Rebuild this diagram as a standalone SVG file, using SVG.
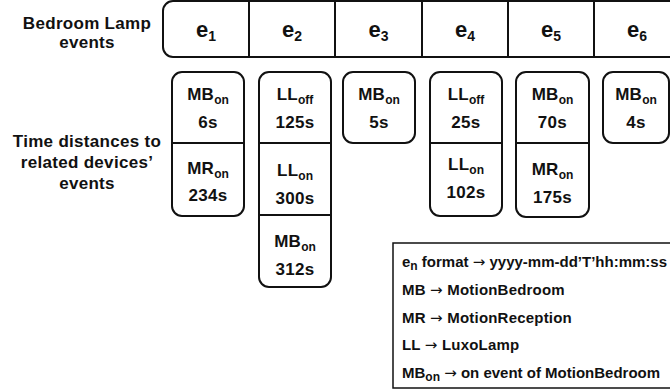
<svg xmlns="http://www.w3.org/2000/svg" width="670" height="392" viewBox="0 0 670 392">
<style>
.s{fill:#fff;stroke:#111;stroke-width:2}
.l{stroke:#111;stroke-width:2;fill:none}
text{font-family:"Liberation Sans",Arial,sans-serif;font-weight:bold;fill:#111}
.h{font-size:17px;text-anchor:middle;letter-spacing:0.3px}
.e{font-size:22px;text-anchor:middle}
.b{font-size:17px;text-anchor:middle;letter-spacing:0.3px}
.g{font-size:15px;letter-spacing:0.2px}
.sub{font-size:12px;letter-spacing:0}
.esub{font-size:14px}
.ar{font-family:"DejaVu Sans",sans-serif;font-weight:normal}
</style>
<rect width="670" height="392" fill="#fff"/>
<g id="label-events">
<text class="h" x="87" y="29">Bedroom Lamp</text>
<text class="h" x="87" y="48">events</text>
</g>
<g id="label-distances">
<text class="h" x="87" y="147">Time distances to</text>
<text class="h" x="87" y="168">related devices’</text>
<text class="h" x="87" y="189">events</text>
</g>
<g id="events-bar">
<path class="s" d="M 680 1 H 173 A 10 10 0 0 0 163 11 V 47 A 10 10 0 0 0 173 57 H 680"/>
<path class="l" d="M249 1V57M335 1V57M422 1V57M508 1V57M594 1V57"/>
<text class="e" x="206" y="37">e<tspan class="esub" dy="4">1</tspan></text>
<text class="e" x="292" y="37">e<tspan class="esub" dy="4">2</tspan></text>
<text class="e" x="378.5" y="37">e<tspan class="esub" dy="4">3</tspan></text>
<text class="e" x="465" y="37">e<tspan class="esub" dy="4">4</tspan></text>
<text class="e" x="551" y="37">e<tspan class="esub" dy="4">5</tspan></text>
<text class="e" x="637" y="37">e<tspan class="esub" dy="4">6</tspan></text>
</g>
<g id="box-e1">
<rect class="s" x="172" y="72" width="72" height="144" rx="10"/>
<line class="l" x1="172" y1="143" x2="244" y2="143"/>
<text class="b" x="208" y="100">MB<tspan class="sub" dy="4">on</tspan></text>
<text class="b" x="208" y="128">6s</text>
<text class="b" x="208" y="174">MR<tspan class="sub" dy="4">on</tspan></text>
<text class="b" x="208" y="201">234s</text>
</g>
<g id="box-e2">
<rect class="s" x="259" y="72" width="72" height="215" rx="10"/>
<line class="l" x1="259" y1="143" x2="331" y2="143"/>
<line class="l" x1="259" y1="215" x2="331" y2="215"/>
<text class="b" x="295" y="100">LL<tspan class="sub" dy="4">off</tspan></text>
<text class="b" x="295" y="128">125s</text>
<text class="b" x="295" y="176">LL<tspan class="sub" dy="4">on</tspan></text>
<text class="b" x="295" y="204">300s</text>
<text class="b" x="295" y="247">MB<tspan class="sub" dy="4">on</tspan></text>
<text class="b" x="295" y="275">312s</text>
</g>
<g id="box-e3">
<rect class="s" x="343" y="72" width="72" height="71" rx="10"/>
<text class="b" x="379" y="100">MB<tspan class="sub" dy="4">on</tspan></text>
<text class="b" x="379" y="128">5s</text>
</g>
<g id="box-e4">
<rect class="s" x="430" y="72" width="72" height="144" rx="10"/>
<line class="l" x1="430" y1="143" x2="502" y2="143"/>
<text class="b" x="466" y="100">LL<tspan class="sub" dy="4">off</tspan></text>
<text class="b" x="466" y="128">25s</text>
<text class="b" x="466" y="170">LL<tspan class="sub" dy="4">on</tspan></text>
<text class="b" x="466" y="198">102s</text>
</g>
<g id="box-e5">
<rect class="s" x="516" y="72" width="73" height="145" rx="10"/>
<line class="l" x1="516" y1="143" x2="589" y2="143"/>
<text class="b" x="552.5" y="100">MB<tspan class="sub" dy="4">on</tspan></text>
<text class="b" x="552.5" y="128">70s</text>
<text class="b" x="552.5" y="175">MR<tspan class="sub" dy="4">on</tspan></text>
<text class="b" x="552.5" y="203">175s</text>
</g>
<g id="box-e6">
<rect class="s" x="603" y="72" width="66" height="71" rx="10"/>
<text class="b" x="636" y="100">MB<tspan class="sub" dy="4">on</tspan></text>
<text class="b" x="636" y="128">4s</text>
</g>
<g id="legend">
<rect x="393" y="243" width="290" height="145" fill="#fff" stroke="#111" stroke-width="1.5"/>
<text class="g" x="402" y="267" style="letter-spacing:0">e<tspan class="sub" dy="3">n</tspan><tspan dy="-3"> format </tspan><tspan class="ar">→</tspan> yyyy-mm-dd’T’hh:mm:ss</text>
<text class="g" x="402" y="295">MB <tspan class="ar">→</tspan> MotionBedroom</text>
<text class="g" x="402" y="323">MR <tspan class="ar">→</tspan> MotionReception</text>
<text class="g" x="402" y="350">LL <tspan class="ar">→</tspan> LuxoLamp</text>
<text class="g" x="402" y="378" style="letter-spacing:0">MB<tspan class="sub" dy="3">on</tspan><tspan dy="-3"> </tspan><tspan class="ar">→</tspan> on event of MotionBedroom</text>
</g>
<g id="connectors"></g>
</svg>
